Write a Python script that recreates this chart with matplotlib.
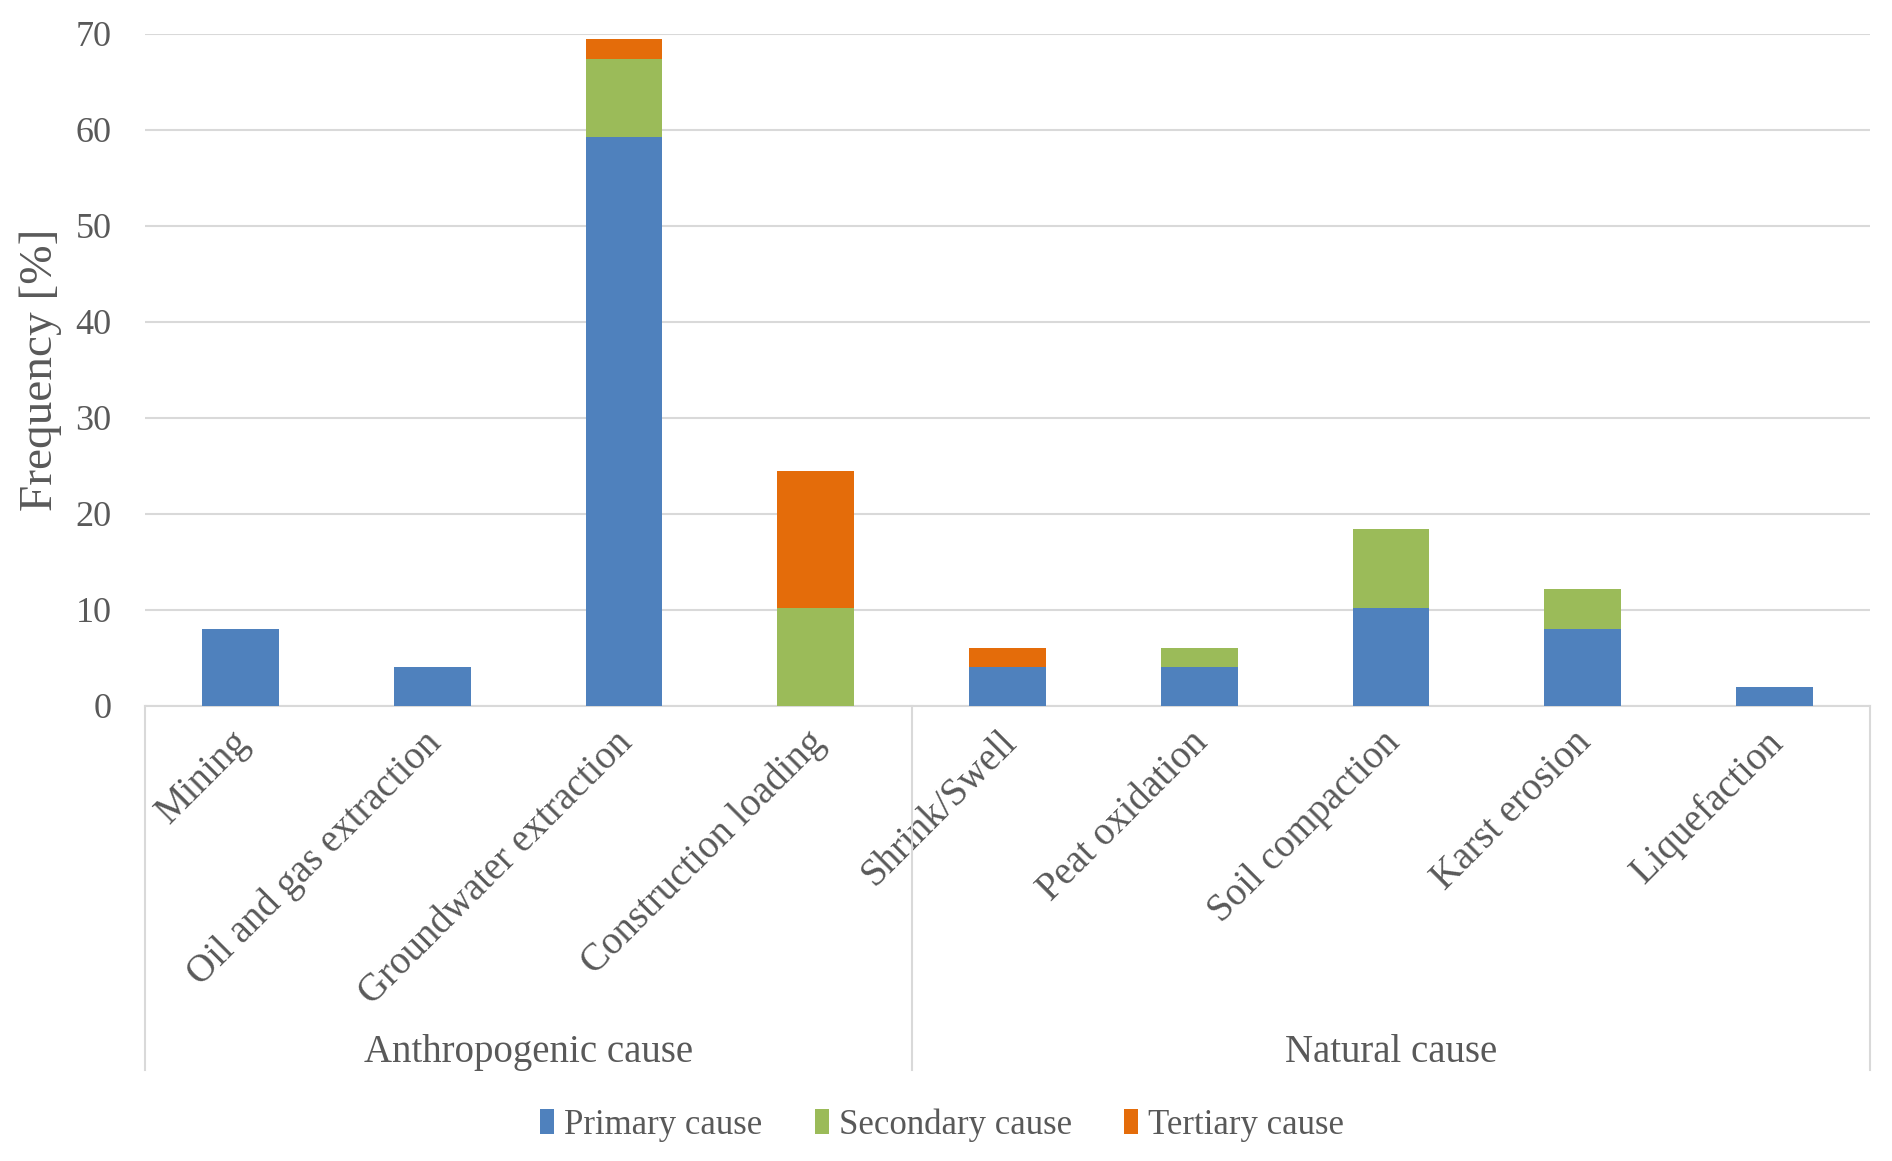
import matplotlib
matplotlib.use('Agg')
import matplotlib.pyplot as plt
import matplotlib.transforms as mtransforms
import numpy as np

categories = ['Mining', 'Oil and gas extraction', 'Groundwater extraction', 'Construction loading',
              'Shrink/Swell', 'Peat oxidation', 'Soil compaction', 'Karst erosion', 'Liquefaction']
groups = ['Anthropogenic cause', 'Natural cause']
group_sizes = [4, 5]
primary = [8.0, 4.0, 59.2, 0.0, 4.0, 4.0, 10.2, 8.0, 2.0]
secondary = [0.0, 0.0, 8.2, 10.2, 0.0, 2.0, 8.2, 4.2, 0.0]
tertiary = [0.0, 0.0, 2.0, 14.3, 2.0, 0.0, 0.0, 0.0, 0.0]
series_names = ['Primary cause', 'Secondary cause', 'Tertiary cause']

plt.rcParams['font.family'] = ['Liberation Serif', 'DejaVu Serif']
txt = '#595959'
grid_c = '#d9d9d9'

fig = plt.figure(figsize=(18.92, 11.61), dpi=100)
ax = fig.add_axes([0.0765, 0.392, 0.912, 0.579])

x = np.arange(len(categories))
w = 0.4
b1 = ax.bar(x, primary, w, color='#4F81BD', label=series_names[0], zorder=3)
b2 = ax.bar(x, secondary, w, bottom=primary, color='#9BBB59', label=series_names[1], zorder=3)
bot3 = np.array(primary) + np.array(secondary)
b3 = ax.bar(x, tertiary, w, bottom=bot3, color='#E46C0A', label=series_names[2], zorder=3)

ax.set_xlim(-0.5, len(categories) - 0.5)
ax.set_ylim(0, 70)
ax.set_yticks(range(0, 71, 10))
ax.yaxis.grid(True, color=grid_c, linewidth=1.5, zorder=0)
for s in ['top', 'right', 'left']:
    ax.spines[s].set_visible(False)
ax.spines['bottom'].set_color(grid_c)
ax.spines['bottom'].set_linewidth(1.5)
ax.tick_params(axis='y', length=0, pad=24, labelsize=26, labelcolor=txt)
ax.tick_params(axis='x', length=0, pad=13, labelsize=28, labelcolor=txt)
ax.set_xticks(x)
ax.set_xticklabels(categories, rotation=45, ha='right', va='top', rotation_mode='anchor')
shift = mtransforms.ScaledTranslation(-7 / 72, 0, fig.dpi_scale_trans)
for lab in ax.get_xticklabels():
    lab.set_transform(lab.get_transform() + shift)

ax.set_ylabel('Frequency [%]', fontsize=34, color=txt)
ax.yaxis.set_label_coords(-0.048, 0.5)

# group brackets below the axis
y_low = -0.542
edges = [0]
for g in group_sizes:
    edges.append(edges[-1] + g)
for e in edges:
    xa = e / len(categories)
    ax.plot([xa, xa], [0, y_low], transform=ax.transAxes, color=grid_c, linewidth=1.5, clip_on=False)
for i, g in enumerate(groups):
    xc = (edges[i] + edges[i + 1]) / 2 / len(categories)
    ax.text(xc, -0.515, g, transform=ax.transAxes, ha='center', va='center', fontsize=28, color=txt)

leg = fig.legend(handles=[b1, b2, b3], loc='center', bbox_to_anchor=(0.498, 0.031), ncol=3,
                 frameon=False, fontsize=25, handlelength=0.4, handleheight=0.7, handletextpad=0.3,
                 columnspacing=1.5)
for t in leg.get_texts():
    t.set_color(txt)

fig.savefig('out.png', dpi=100)
